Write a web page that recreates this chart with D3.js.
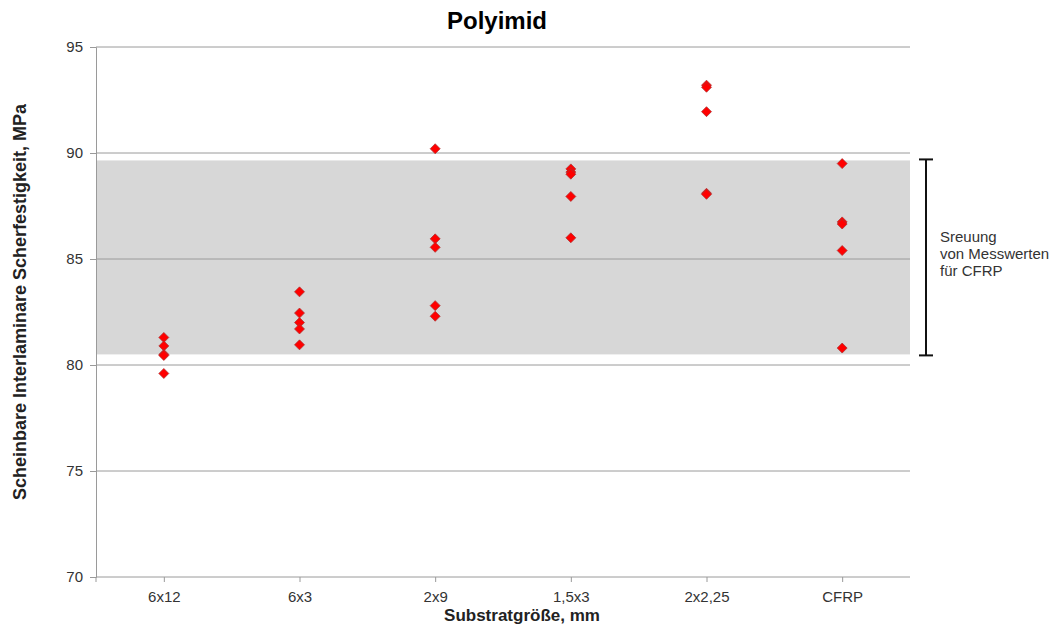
<!DOCTYPE html>
<html>
<head>
<meta charset="utf-8">
<script src="https://cdn.jsdelivr.net/npm/d3@7"></script>
<style>
  body { margin: 0; background: #fff; }
  text { font-family: "Liberation Sans", Arial, sans-serif; }
</style>
</head>
<body>
<svg width="1058" height="628"></svg>
<script>
// categories and measured values (MPa)
var categories = ["6x12", "6x3", "2x9", "1,5x3", "2x2,25", "CFRP"];
var values6x12 = [81.3, 80.9, 80.5, 80.45, 79.6];
var values6x3 = [83.45, 82.45, 82.0, 81.7, 80.95];
var values2x9 = [90.2, 85.95, 85.55, 82.8, 82.3];
var values15x3 = [89.25, 89.1, 89.0, 87.95, 86.0];
var values2x225 = [93.2, 93.1, 91.95, 88.1, 88.05];
var valuesCFRP = [89.5, 86.75, 86.65, 85.4, 80.8];
var yTicks = [70, 75, 80, 85, 90, 95];
// scatter band of CFRP
var bandLow = 80.5, bandHigh = 89.65;
var bandNote = ["Sreuung", "von Messwerten", "für CFRP"];

var allValues = [values6x12, values6x3, values2x9, values15x3, values2x225, valuesCFRP];
var points = [];
allValues.forEach(function(vals, i) {
    vals.forEach(function(v) { points.push({cat: categories[i], value: v}); });
});

var svg = d3.select("svg"),
    pLeft = 96, pRight = 910, pTop = 47, pBottom = 577;

var x = d3.scalePoint().domain(categories).range([pLeft, pRight]).padding(0.5);
var y = d3.scaleLinear().domain([70, 95]).range([pBottom, pTop]);

// gray band
svg.append("rect")
    .attr("x", pLeft).attr("width", pRight - pLeft)
    .attr("y", y(bandHigh)).attr("height", y(bandLow) - y(bandHigh))
    .attr("fill", "#d7d7d7");

// grid
svg.append("g").selectAll("line")
    .data(yTicks.filter(function(d) { return d > 70; }))
    .enter().append("line")
    .attr("x1", pLeft).attr("x2", pRight)
    .attr("y1", function(d) { return y(d); }).attr("y2", function(d) { return y(d); })
    .attr("stroke", "#9a9a9a").attr("stroke-width", 1);

// y axis
var yAxis = svg.append("g")
    .attr("transform", "translate(" + pLeft + ",0)")
    .call(d3.axisLeft(y).tickValues(yTicks).tickSize(6).tickPadding(7));
yAxis.select(".domain").attr("stroke", "#9a9a9a");
yAxis.selectAll(".tick line").attr("stroke", "#9a9a9a");
yAxis.selectAll("text").attr("font-size", 15).attr("fill", "#333");

// x axis
var xAxis = svg.append("g")
    .attr("transform", "translate(0," + pBottom + ")")
    .call(d3.axisBottom(x).tickSize(5).tickPadding(9).tickSizeOuter(0));
xAxis.select(".domain").attr("stroke", "#9a9a9a").attr("d", "M" + pLeft + ",0H" + pRight);
xAxis.selectAll(".tick line").attr("stroke", "#9a9a9a");
xAxis.selectAll("text").attr("font-size", 15).attr("fill", "#333");
svg.append("line")
    .attr("x1", pLeft).attr("x2", pLeft).attr("y1", pBottom).attr("y2", pBottom + 5)
    .attr("stroke", "#9a9a9a");

// points: square turned 45deg
var diamond = d3.symbol().type(d3.symbolSquare).size(50);
svg.append("g").selectAll("path")
    .data(points)
    .enter().append("path")
    .attr("d", diamond)
    .attr("transform", function(d) { return "translate(" + x(d.cat) + "," + y(d.value) + ") rotate(45)"; })
    .attr("fill", "#ff0000")
    .attr("stroke", "#a33")
    .attr("stroke-width", 0.7);

// bracket
var bx = 926;
var br = svg.append("g").attr("stroke", "#111").attr("stroke-width", 2);
br.append("line").attr("x1", bx).attr("x2", bx).attr("y1", y(bandHigh) - 1).attr("y2", y(bandLow) + 1);
br.append("line").attr("x1", bx - 7).attr("x2", bx + 7).attr("y1", y(bandHigh) - 1).attr("y2", y(bandHigh) - 1);
br.append("line").attr("x1", bx - 7).attr("x2", bx + 7).attr("y1", y(bandLow) + 1).attr("y2", y(bandLow) + 1);

svg.append("g").selectAll("text")
    .data(bandNote)
    .enter().append("text")
    .attr("x", 940)
    .attr("y", function(d, i) { return 242 + i * 17; })
    .attr("font-size", 15)
    .attr("fill", "#333")
    .text(function(d) { return d; });

// titles
svg.append("text")
    .attr("x", 497).attr("y", 29)
    .attr("text-anchor", "middle")
    .attr("font-size", 24).attr("font-weight", "bold")
    .text("Polyimid");

svg.append("text")
    .attr("x", 522).attr("y", 621)
    .attr("text-anchor", "middle")
    .attr("font-size", 17).attr("font-weight", "bold")
    .attr("fill", "#222")
    .text("Substratgröße, mm");

svg.append("text")
    .attr("transform", "translate(26,302) rotate(-90)")
    .attr("text-anchor", "middle")
    .attr("font-size", 18).attr("font-weight", "bold")
    .attr("fill", "#222")
    .text("Scheinbare Interlaminare Scherfestigkeit, MPa");
</script>
</body>
</html>
